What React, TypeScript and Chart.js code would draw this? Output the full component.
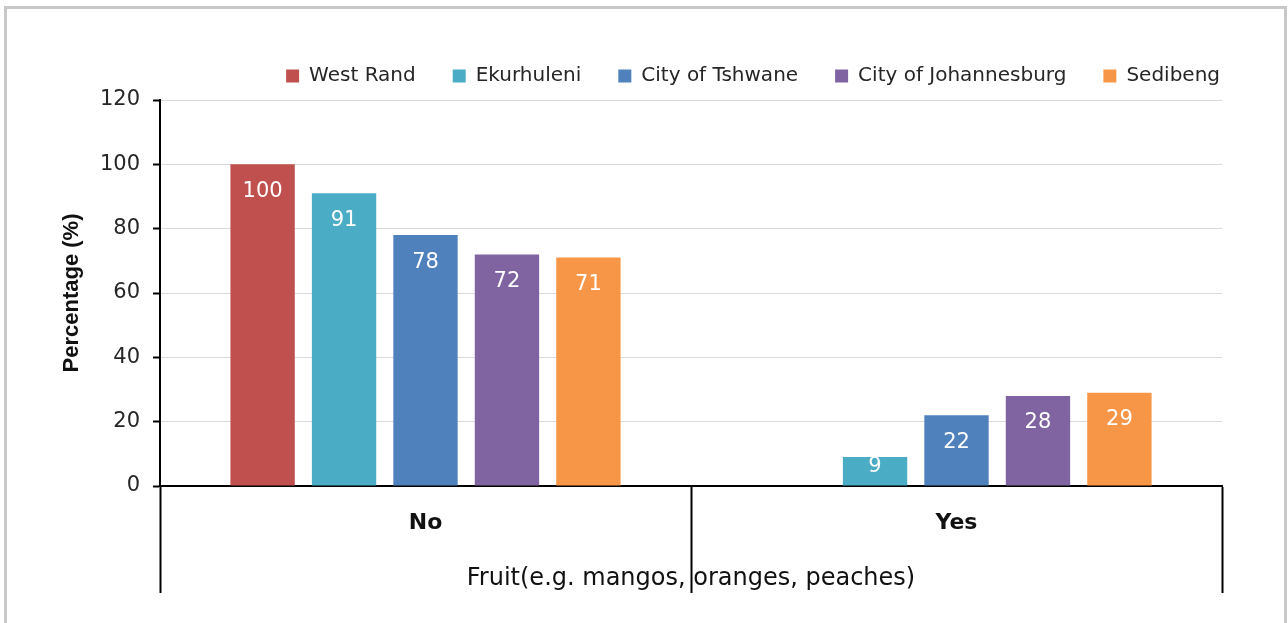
import React, { useEffect, useRef } from 'react';
import { Chart, registerables } from 'chart.js';

Chart.register(...registerables);

const categories = ['No', 'Yes'];
const seriesNames = ['West Rand', 'Ekurhuleni', 'City of Tshwane', 'City of Johannesburg', 'Sedibeng'];
const westRand: (number | null)[] = [100, null];
const ekurhuleni: (number | null)[] = [91, 9];
const cityOfTshwane: (number | null)[] = [78, 22];
const cityOfJohannesburg: (number | null)[] = [72, 28];
const sedibeng: (number | null)[] = [71, 29];
const seriesValues = [westRand, ekurhuleni, cityOfTshwane, cityOfJohannesburg, sedibeng];
const seriesColors = ['#C0504D', '#4BACC6', '#4F81BD', '#8064A2', '#F79646'];
const yTickValues = [0, 20, 40, 60, 80, 100, 120];
const yTitle = 'Percentage (%)';
const xTitle = 'Fruit(e.g. mangos, oranges, peaches)';

const FONT = '"DejaVu Sans", sans-serif';

const valueLabelPlugin = {
  id: 'valueLabels',
  afterDatasetsDraw(chart: any) {
    const ctx = chart.ctx;
    ctx.save();
    ctx.font = `21px ${FONT}`;
    ctx.fillStyle = '#ffffff';
    ctx.textAlign = 'center';
    ctx.textBaseline = 'middle';
    chart.data.datasets.forEach((ds: any, di: number) => {
      const meta = chart.getDatasetMeta(di);
      meta.data.forEach((el: any, i: number) => {
        const v = ds.data[i];
        if (v === null || v === undefined) return;
        const { x, y, base } = el.getProps(['x', 'y', 'base'], true);
        const ty = Math.min(y + 27, base - 19);
        ctx.fillText(String(v), x, ty);
      });
    });
    ctx.restore();
  },
};

export default function App() {
  const canvasRef = useRef<HTMLCanvasElement | null>(null);

  useEffect(() => {
    document.body.style.margin = '0';
    document.body.style.overflow = 'hidden';
    const canvas = canvasRef.current;
    if (!canvas) return;
    const chart = new Chart(canvas, {
      type: 'bar',
      data: {
        labels: categories,
        datasets: seriesNames.map((name, i) => ({
          label: name,
          data: seriesValues[i],
          backgroundColor: seriesColors[i],
          borderWidth: 0,
          categoryPercentage: 0.767,
          barPercentage: 0.79,
        })),
      },
      options: {
        responsive: false,
        animation: false,
        devicePixelRatio: 1,
        layout: { padding: { left: 0, right: 31, top: 29, bottom: 0 } },
        plugins: {
          legend: {
            display: true,
            position: 'top',
            align: 'end',
            labels: {
              boxWidth: 13,
              boxHeight: 13,
              padding: 37,
              color: '#262626',
              font: { family: FONT, size: 20 },
            },
          },
          tooltip: { enabled: false },
        },
        scales: {
          x: {
            type: 'category',
            offset: true,
            grid: {
              display: true,
              offset: true,
              drawOnChartArea: false,
              drawTicks: true,
              tickLength: 107,
              tickWidth: 2,
              tickColor: '#000000',
            },
            border: { display: true, color: '#000000', width: 2 },
            ticks: {
              color: '#111111',
              font: { family: FONT, size: 22, weight: 'bold' },
              padding: -83,
              maxRotation: 0,
              minRotation: 0,
              autoSkip: false,
            },
            title: {
              display: true,
              text: xTitle,
              color: '#111111',
              font: { family: FONT, size: 24 },
              padding: { top: 0, bottom: 29.6 },
            },
            afterFit: (s: any) => {
              s.height = 137;
            },
          },
          xTop: {
            type: 'category',
            position: 'top',
            display: true,
            grid: { display: false, drawTicks: false },
            border: { display: false },
            ticks: { display: false },
            afterFit: (s: any) => {
              s.height = 4;
            },
          },
          y: {
            type: 'linear',
            position: 'left',
            min: yTickValues[0],
            max: yTickValues[yTickValues.length - 1],
            grid: {
              color: '#d9d9d9',
              lineWidth: 1,
              drawTicks: true,
              tickLength: 7,
              tickWidth: 2,
              tickColor: '#000000',
            },
            border: { display: true, color: '#000000', width: 2 },
            ticks: {
              stepSize: 20,
              color: '#262626',
              font: { family: FONT, size: 21 },
              padding: 13,
            },
            afterBuildTicks: (s: any) => {
              s.ticks = yTickValues.map((v) => ({ value: v }));
            },
            title: {
              display: true,
              text: yTitle,
              color: '#111111',
              font: { family: '"Liberation Sans", Arial, sans-serif', size: 22, weight: 'bold' },
              padding: { top: 59, bottom: 0 },
            },
            afterFit: (s: any) => {
              s.width = 160;
            },
          },
          yRight: {
            type: 'linear',
            position: 'right',
            display: true,
            grid: { display: false, drawTicks: false },
            border: { display: false },
            ticks: { display: false },
            afterFit: (s: any) => {
              s.width = 35;
            },
          },
        },
      },
      plugins: [valueLabelPlugin],
    } as any);
    return () => {
      chart.destroy();
    };
  }, []);

  return (
    <div style={{ position: 'relative', width: 1288, height: 623, background: '#ffffff', overflow: 'hidden' }}>
      <canvas
        ref={canvasRef}
        width={1288}
        height={623}
        style={{ position: 'absolute', left: 0, top: 0, width: 1288, height: 623 }}
      />
      <div
        style={{
          position: 'absolute',
          left: 4,
          top: 6,
          width: 1277,
          height: 640,
          borderTop: '3px solid #c8c8c8',
          borderLeft: '3px solid #c8c8c8',
          borderRight: '3px solid #c8c8c8',
          pointerEvents: 'none',
        }}
      />
    </div>
  );
}
